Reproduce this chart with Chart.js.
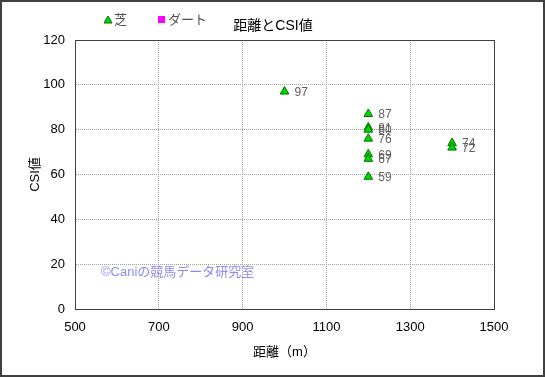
<!DOCTYPE html>
<html>
<head>
<meta charset="utf-8">
<script src="https://cdn.jsdelivr.net/npm/chart.js@4"></script>
<style>
    html, body { margin: 0; padding: 0; background: #fff; }
    #wrap { width: 545px; height: 377px; position: relative; box-sizing: border-box; border: 2px solid #404040; }
    canvas { display: block; }
</style>
</head>
<body>
<div id="wrap"><canvas id="csiChart" width="541" height="373"></canvas></div>
<script>
// 芝
const turfDistance = [1000, 1200, 1200, 1200, 1200, 1200, 1200, 1200, 1400, 1400];
const turfCsi = [97, 87, 81, 80, 76, 69, 67, 59, 74, 72];
// ダート (no races)
const dirtDistance = [];
const dirtCsi = [];

const xTicks = [500, 700, 900, 1100, 1300, 1500];
const yTicks = [0, 20, 40, 60, 80, 100, 120];

const FONT = "'Liberation Sans', 'Noto Sans CJK JP', sans-serif";

function toPoints(xs, ys) {
    return xs.map((x, i) => ({ x: x, y: ys[i] }));
}

// frame, title, legend, value labels and copyright
const decorations = {
    id: 'decorations',
    afterDatasetsDraw(chart) {
        const ctx = chart.ctx;
        const a = chart.chartArea;
        ctx.save();
        ctx.strokeStyle = '#404040';
        ctx.lineWidth = 1;
        ctx.setLineDash([]);
        ctx.strokeRect(a.left + 0.5, a.top + 0.5, a.right - a.left, a.bottom - a.top);

        // value labels next to turf points
        ctx.font = '12px ' + FONT;
        ctx.fillStyle = '#606060';
        ctx.textBaseline = 'middle';
        ctx.textAlign = 'left';
        const meta = chart.getDatasetMeta(0);
        meta.data.forEach((pt, i) => {
            ctx.fillText(String(turfCsi[i]), pt.x + 10, pt.y + 1);
        });

        // copyright
        ctx.font = '13px ' + FONT;
        ctx.fillStyle = '#8c8cf0';
        ctx.fillText('©Caniの競馬データ研究室', 99, 270);

        // title
        ctx.font = '14px ' + FONT;
        ctx.fillStyle = '#000';
        ctx.textAlign = 'center';
        ctx.fillText('距離とCSI値', 271, 24);

        // legend
        ctx.textAlign = 'left';
        ctx.font = '13px ' + FONT;
        const items = chart.data.datasets;
        const xs = [102, 156];
        items.forEach((ds, i) => {
            const x = xs[i], y = 18;
            ctx.fillStyle = ds.backgroundColor;
            ctx.strokeStyle = ds.borderColor;
            ctx.beginPath();
            if (ds.pointStyle === 'triangle') {
                ctx.moveTo(x + 4, y - 4);
                ctx.lineTo(x + 8, y + 3);
                ctx.lineTo(x, y + 3);
                ctx.closePath();
                ctx.fill();
                ctx.stroke();
            } else {
                ctx.fillRect(x, y - 4, 7, 7);
            }
            ctx.fillStyle = '#505050';
            ctx.fillText(ds.label, x + 10, y);
        });
        ctx.restore();
    }
};

const ctx = document.getElementById('csiChart').getContext('2d');
new Chart(ctx, {
    type: 'scatter',
    data: {
        datasets: [
            {
                label: '芝',
                data: toPoints(turfDistance, turfCsi),
                pointStyle: 'triangle',
                pointRadius: 5,
                backgroundColor: '#00d800',
                borderColor: '#007000',
                borderWidth: 1
            },
            {
                label: 'ダート',
                data: toPoints(dirtDistance, dirtCsi),
                pointStyle: 'rect',
                pointRadius: 4,
                backgroundColor: '#ff00ff',
                borderColor: '#ff00ff',
                borderWidth: 1
            }
        ]
    },
    options: {
        responsive: false,
        animation: false,
        layout: { padding: { left: 0, top: 38, right: 49, bottom: 0 } },
        plugins: {
            legend: { display: false },
            title: { display: false },
            tooltip: { enabled: false }
        },
        scales: {
            x: {
                type: 'linear',
                min: 500,
                max: 1500,
                afterBuildTicks: (scale) => { scale.ticks = xTicks.map(v => ({ value: v })); },
                afterFit: (scale) => { scale.height = 66; },
                ticks: { color: '#000', font: { family: FONT, size: 13 }, padding: 11, callback: (v) => String(v) },
                grid: { color: '#a0a0a0', drawTicks: false, tickLength: 0 },
                border: { display: true, color: '#404040', dash: [1, 1] },
                title: { display: true, text: '距離（m）', color: '#000', font: { family: FONT, size: 13 }, padding: { bottom: 15 } }
            },
            y: {
                min: 0,
                max: 120,
                afterBuildTicks: (scale) => { scale.ticks = yTicks.map(v => ({ value: v })); },
                afterFit: (scale) => { scale.width = 73; },
                ticks: { color: '#000', font: { family: FONT, size: 13 }, padding: 10 },
                grid: { color: '#a0a0a0', drawTicks: false, tickLength: 0 },
                border: { display: true, color: '#404040', dash: [1, 1] },
                title: { display: true, text: 'CSI値', color: '#000', font: { family: FONT, size: 13 }, padding: { top: 26 } }
            }
        }
    },
    plugins: [decorations]
});
</script>
</body>
</html>
